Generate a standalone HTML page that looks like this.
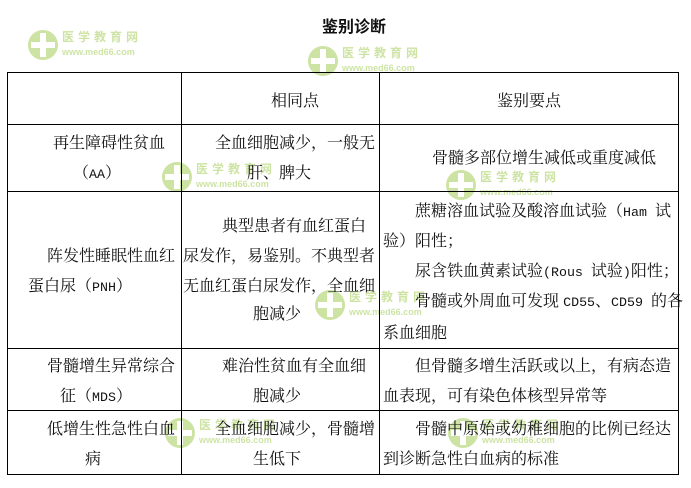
<!DOCTYPE html>
<html><head><meta charset="utf-8"><style>
body{margin:0;background:#fff;}
#c{position:relative;width:691px;height:488px;overflow:hidden;font-family:"Noto Serif CJK SC",serif;font-size:16px;color:#111;}
.t{position:absolute;line-height:18px;white-space:nowrap;}
.m{font-family:"Liberation Mono",monospace;font-size:13.3px;}
.h{position:absolute;background:#000;height:1px;}
.v{position:absolute;background:#000;width:1px;}
.wm{position:absolute;opacity:.5;white-space:nowrap;width:130px;height:32px;}
.wm .o{position:absolute;left:0;top:0;width:30px;height:30px;border-radius:50%;background:#9cc94a;}
.wm .o:before{content:"";position:absolute;left:12px;top:3px;width:6px;height:24px;background:#fff;}
.wm .o:after{content:"";position:absolute;left:3px;top:12px;width:24px;height:6px;background:#fff;}
.wm .a{position:absolute;left:34px;top:0;font:bold 12px "Noto Sans CJK SC",sans-serif;color:#9cc94a;letter-spacing:4px;white-space:nowrap;line-height:14px;}
.wm .b{position:absolute;left:34px;top:17px;font:bold 9px "Liberation Sans",sans-serif;color:#9cc94a;white-space:nowrap;line-height:10px;}
</style></head><body><div id="c">
<div class="wm" style="left:28px;top:30px"><div class="o"></div><div class="a">医学教育网</div><div class="b">www.med66.com</div></div>
<div class="wm" style="left:308px;top:46px"><div class="o"></div><div class="a">医学教育网</div><div class="b">www.med66.com</div></div>
<div class="wm" style="left:162px;top:162px"><div class="o"></div><div class="a">医学教育网</div><div class="b">www.med66.com</div></div>
<div class="wm" style="left:446px;top:170px"><div class="o"></div><div class="a">医学教育网</div><div class="b">www.med66.com</div></div>
<div class="wm" style="left:315px;top:290px"><div class="o"></div><div class="a">医学教育网</div><div class="b">www.med66.com</div></div>
<div class="wm" style="left:165px;top:418px"><div class="o"></div><div class="a">医学教育网</div><div class="b">www.med66.com</div></div>
<div class="wm" style="left:448px;top:418px"><div class="o"></div><div class="a">医学教育网</div><div class="b">www.med66.com</div></div>

<div class="t" style="left:322px;top:16px;font-weight:bold;font-family:'Noto Sans CJK SC',sans-serif;">鉴别诊断</div>

<div class="h" style="left:7px;width:672px;top:72px"></div>
<div class="h" style="left:7px;width:672px;top:124px"></div>
<div class="h" style="left:7px;width:672px;top:191px"></div>
<div class="h" style="left:7px;width:672px;top:348px"></div>
<div class="h" style="left:7px;width:672px;top:410px"></div>
<div class="h" style="left:7px;width:672px;top:474px"></div>
<div class="v" style="left:7px;top:72px;height:403px"></div>
<div class="v" style="left:181px;top:72px;height:403px"></div>
<div class="v" style="left:379px;top:72px;height:403px"></div>
<div class="v" style="left:678px;top:72px;height:403px"></div>

<div class="t" style="left:271px;top:91px">相同点</div>
<div class="t" style="left:497px;top:91px">鉴别要点</div>

<div class="t" style="left:53px;top:133px">再生障碍性贫血</div>
<div class="t" style="left:73px;top:163px">（<span class="m">AA</span>）</div>
<div class="t" style="left:215px;top:133px">全血细胞减少，一般无</div>
<div class="t" style="left:247px;top:163px">肝、脾大</div>
<div class="t" style="left:432px;top:148px">骨髓多部位增生减低或重度减低</div>

<div class="t" style="left:47px;top:246px">阵发性睡眠性血红</div>
<div class="t" style="left:28px;top:276px">蛋白尿（<span class="m">PNH</span>）</div>
<div class="t" style="left:222px;top:216px">典型患者有血红蛋白</div>
<div class="t" style="left:183px;top:246px">尿发作，易鉴别。不典型者</div>
<div class="t" style="left:183px;top:276px">无血红蛋白尿发作，全血细</div>
<div class="t" style="left:253px;top:304px">胞减少</div>
<div class="t" style="left:415px;top:201px">蔗糖溶血试验及酸溶血试验（<span class="m">Ham </span>试</div>
<div class="t" style="left:383px;top:231px">验）阳性；</div>
<div class="t" style="left:415px;top:261px">尿含铁血黄素试验<span class="m">(Rous </span>试验<span class="m">)</span>阳性；</div>
<div class="t" style="left:415px;top:291px">骨髓或外周血可发现 <span class="m">CD55</span>、<span class="m">CD59 </span>的各</div>
<div class="t" style="left:383px;top:323px">系血细胞</div>

<div class="t" style="left:47px;top:356px">骨髓增生异常综合</div>
<div class="t" style="left:60px;top:386px">征（<span class="m">MDS</span>）</div>
<div class="t" style="left:222px;top:356px">难治性贫血有全血细</div>
<div class="t" style="left:253px;top:386px">胞减少</div>
<div class="t" style="left:415px;top:356px">但骨髓多增生活跃或以上，有病态造</div>
<div class="t" style="left:383px;top:386px">血表现，可有染色体核型异常等</div>

<div class="t" style="left:47px;top:419px">低增生性急性白血</div>
<div class="t" style="left:85px;top:449px">病</div>
<div class="t" style="left:215px;top:419px">全血细胞减少，骨髓增</div>
<div class="t" style="left:253px;top:449px">生低下</div>
<div class="t" style="left:415px;top:419px">骨髓中原始或幼稚细胞的比例已经达</div>
<div class="t" style="left:383px;top:449px">到诊断急性白血病的标准</div>
</div></body></html>
